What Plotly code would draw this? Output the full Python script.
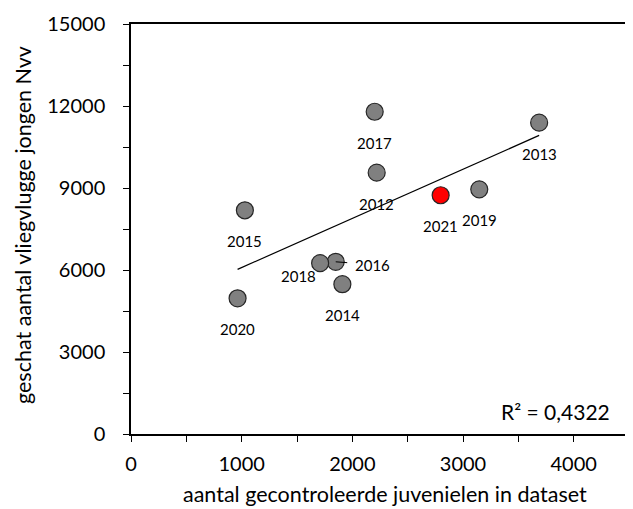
import numpy as np
import plotly.graph_objects as go

years = ["2012", "2013", "2014", "2015", "2016", "2017", "2018", "2019", "2020", "2021"]
juveniles = [2220, 3688, 1910, 1029, 1850, 2202, 1709, 3147, 963, 2798]
nvv = [9560, 11390, 5480, 8185, 6300, 11790, 6250, 8950, 4965, 8735]

x_ticks = [0, 1000, 2000, 3000, 4000]
x_tick_labels = ["0", "1000", "2000", "3000", "4000"]
y_ticks = [0, 3000, 6000, 9000, 12000, 15000]
y_tick_labels = ["0", "3000", "6000", "9000", "12000", "15000"]
r2_text = "R² = 0,4322"
x_title = "aantal gecontroleerde juvenielen in dataset"
y_title = "geschat aantal vliegvlugge jongen Nvv"

FONT = "Lato"

x = np.array(juveniles, dtype=float)
y = np.array(nvv, dtype=float)
slope, intercept = np.polyfit(x, y, 1)
xl = np.array([x.min(), x.max()])
yl = slope * xl + intercept

colors = ["#ff0000" if yr == "2021" else "#808080" for yr in years]

fig = go.Figure()
fig.add_trace(go.Scatter(x=xl, y=yl, mode="lines",
                         line=dict(color="black", width=1.2), showlegend=False,
                         hoverinfo="skip"))
fig.add_trace(go.Scatter(x=juveniles, y=nvv, mode="markers",
                         marker=dict(size=17, color=colors,
                                     line=dict(color="#262626", width=1.2)),
                         text=years, showlegend=False))

# label offsets (pixels) relative to points
offsets = {"2016": (37, -3), "2018": (-22, -13)}
for yr, xv, yv in zip(years, juveniles, nvv):
    dx, dy = offsets.get(yr, (0, -31))
    fig.add_annotation(x=xv, y=yv, text=yr, showarrow=False,
                       xshift=dx, yshift=dy,
                       font=dict(family=FONT, size=15, color="black"))
# leader line for 2016
i16 = years.index("2016")
fig.add_annotation(x=juveniles[i16], y=nvv[i16], ax=13, ay=1, axref="pixel",
                   ayref="pixel", text="", showarrow=True, arrowhead=0,
                   arrowwidth=1, arrowcolor="black", standoff=0, startstandoff=0)

fig.add_annotation(xref="paper", yref="paper", x=0.965, y=0.0, yshift=8,
                   xanchor="right", yanchor="bottom", text=r2_text,
                   showarrow=False, font=dict(family=FONT, size=21, color="black"))

# axis titles
fig.add_annotation(xref="paper", yref="paper", x=0.5, y=0, xshift=5, yshift=-60,
                   xanchor="center", yanchor="middle", text=x_title, showarrow=False,
                   font=dict(family=FONT, size=21.5, color="black"))
fig.add_annotation(xref="paper", yref="paper", x=0, y=0.5, xshift=-108, yshift=4,
                   xanchor="center", yanchor="middle", text=y_title, textangle=-90,
                   showarrow=False, font=dict(family=FONT, size=21.5, color="black"))

axis_common = dict(showline=True, linecolor="black", linewidth=1.5, mirror=True,
                   showgrid=False, zeroline=False, ticks="outside", ticklen=6,
                   tickwidth=1.2, tickcolor="black",
                   tickfont=dict(family=FONT, size=20, color="black"))

fig.update_xaxes(range=[0, 4500], tickvals=x_ticks, ticktext=x_tick_labels,
                 ticklabelstandoff=5,
                 minor=dict(dtick=500, tick0=0, ticks="outside", ticklen=6,
                            tickwidth=1.2, tickcolor="black"),
                 **axis_common)
fig.update_yaxes(range=[0, 15000], tickvals=y_ticks, ticktext=y_tick_labels,
                 ticklabelstandoff=14,
                 minor=dict(dtick=1500, tick0=0, ticks="outside", ticklen=6,
                            tickwidth=1.2, tickcolor="black"),
                 **axis_common)

fig.update_layout(width=626, height=502, plot_bgcolor="white", paper_bgcolor="white",
                  margin=dict(l=123, r=5, t=16, b=76, autoexpand=False),
                  font=dict(family=FONT, color="black"))

fig.write_html("out.html")
